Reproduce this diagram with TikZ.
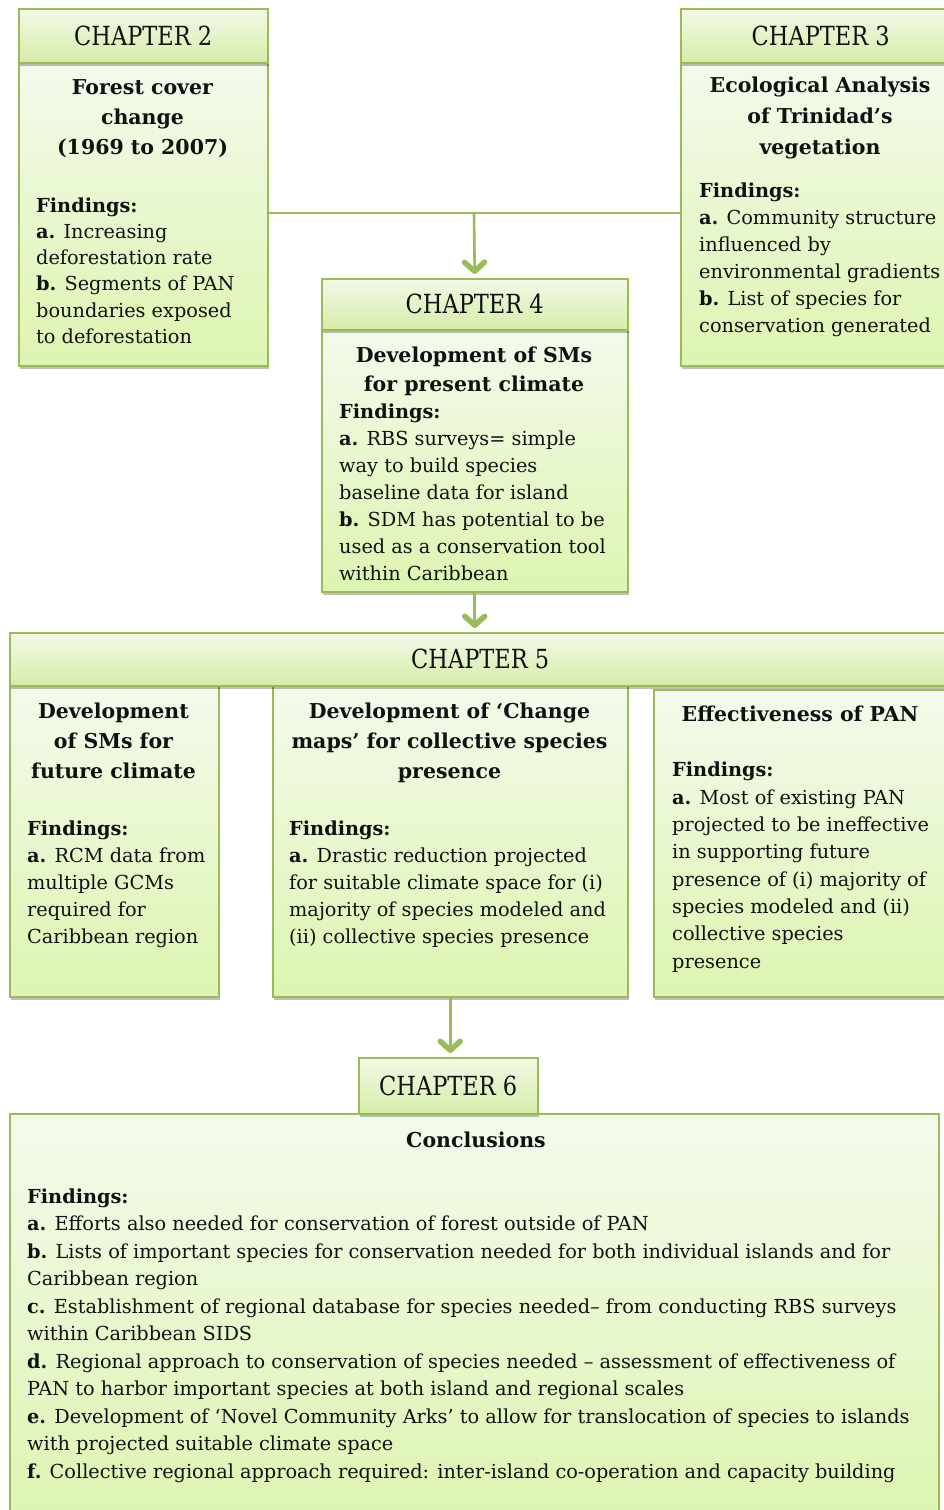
\documentclass[tikz,border=0pt]{standalone}
\usepackage{fontspec}
\usepackage{graphicx}
\setmainfont{DejaVu Serif}
\usetikzlibrary{arrows.meta,shadows}
\definecolor{bord}{HTML}{9BBB59}
\definecolor{hdrtop}{HTML}{F3F9E8}
\definecolor{hdrbot}{HTML}{D5EDA8}
\definecolor{bodytop}{HTML}{F4FAEC}
\definecolor{bodybot}{HTML}{DCF5B0}
\definecolor{txt}{HTML}{111111}
\newcommand\hdrfont{\fontsize{22.5}{27}\selectfont}
\newcommand\ttlfont{\fontsize{20.5}{30}\selectfont\bfseries}
\newcommand\fndfont{\fontsize{19.3}{27}\selectfont}
\newcommand\hdrtext[1]{\scalebox{1}[1.17]{#1}}
\tikzset{
 box/.style={draw=bord, line width=1.5pt, inner sep=0pt, anchor=north west,
   drop shadow={shadow xshift=1.5pt, shadow yshift=-3pt, opacity=0.25, fill=black}},
 hdrbox/.style={box, top color=hdrtop, bottom color=hdrbot, font=\hdrfont, text=txt},
 bodybox/.style={box, top color=bodytop, bottom color=bodybot},
 ttl/.style={anchor=base, align=center, font=\ttlfont, text=txt, inner sep=0pt},
 fnd/.style={anchor=base west, align=left, font=\fndfont, text=txt, inner sep=0pt},
 conn/.style={draw=bord, line width=2.6pt},
 arr/.style={conn, -{Straight Barb[length=9pt,width=20pt,line width=5.5pt,round]}, shorten >=4pt},
}
\begin{document}
\begin{tikzpicture}[x=1pt,y=-1pt]
\fill[white] (0,0) rectangle (944,1510);
\useasboundingbox (0,0) rectangle (944,1510);
\clip (0,0) rectangle (944,1510);
% text nodes are anchored at the baseline of their LAST line

% Chapter 2
\node[bodybox, minimum width=249pt, minimum height=303pt] (ch2b) at (18,62) {};
\node[hdrbox, minimum width=249pt, minimum height=54pt] (ch2h) at (18,8) {\hdrtext{CHAPTER 2}};
\node[ttl] (ch2t) at (142.5,154) {Forest cover\\change\\(1969 to 2007)};
\node[fnd, font={\fontsize{19.3}{26.3}\selectfont}] (ch2f) at (36,343.5) {\textbf{Findings:}\\\textbf{a.} Increasing\\deforestation rate\\\textbf{b.} Segments of PAN\\boundaries exposed\\to deforestation};

% Chapter 3
\node[bodybox, minimum width=280pt, minimum height=303pt] (ch3b) at (680,62) {};
\node[hdrbox, minimum width=280pt, minimum height=54pt] (ch3h) at (680,8) {\hdrtext{CHAPTER 3}};
\node[ttl, font={\fontsize{20.5}{31}\selectfont\bfseries}] (ch3t) at (820,154) {Ecological Analysis\\of Trinidad’s\\vegetation};
\node[fnd] (ch3f) at (699,332) {\textbf{Findings:}\\\textbf{a.} Community structure\\influenced by\\environmental gradients\\\textbf{b.} List of species for\\conservation generated};

% Chapter 4
\node[bodybox, minimum width=306pt, minimum height=262pt] (ch4b) at (321,329) {};
\node[hdrbox, minimum width=306pt, minimum height=51pt] (ch4h) at (321,278) {\hdrtext{CHAPTER 4}};
\node[ttl, font={\fontsize{20.5}{29}\selectfont\bfseries}] (ch4t) at (474,391) {Development of SMs\\for present climate};
\node[fnd] (ch4f) at (339,580) {\textbf{Findings:}\\\textbf{a.} RBS surveys= simple\\way to build species\\baseline data for island\\\textbf{b.} SDM has potential to be\\used as a conservation tool\\within Caribbean};

% Chapter 5
\node[bodybox, minimum width=209pt, minimum height=311pt] (ch5a) at (9,685) {};
\node[bodybox, minimum width=355pt, minimum height=311pt] (ch5b) at (272,685) {};
\node[bodybox, minimum width=296pt, minimum height=307pt] (ch5c) at (653,689) {};
\node[hdrbox, minimum width=941pt, minimum height=53pt] (ch5h) at (9,632) {\hdrtext{CHAPTER 5}};
\node[ttl] (ch5at) at (113.5,778) {Development\\of SMs for\\future climate};
\node[fnd] (ch5af) at (27,943) {\textbf{Findings:}\\\textbf{a.} RCM data from\\multiple GCMs\\required for\\Caribbean region};
\node[ttl] (ch5bt) at (449.5,778) {Development of ‘Change\\maps’ for collective species\\presence};
\node[fnd] (ch5bf) at (289,943) {\textbf{Findings:}\\\textbf{a.} Drastic reduction projected\\for suitable climate space for (i)\\majority of species modeled and\\(ii) collective species presence};
\node[ttl] (ch5ct) at (800,721) {Effectiveness of PAN};
\node[fnd, font={\fontsize{19.3}{27.3}\selectfont}] (ch5cf) at (672,968) {\textbf{Findings:}\\\textbf{a.} Most of existing PAN\\projected to be ineffective\\in supporting future\\presence of (i) majority of\\species modeled and (ii)\\collective species\\presence};

% Chapter 6
\node[bodybox, minimum width=929pt, minimum height=410pt] (ch6b) at (9,1113) {};
\node[hdrbox, minimum width=179pt, minimum height=56pt] (ch6h) at (358,1057) {\hdrtext{CHAPTER 6}};
\node[ttl] (ch6t) at (476,1147) {Conclusions};
\node[fnd, font={\fontsize{19.3}{27.5}\selectfont}] (ch6f) at (27,1478) {\textbf{Findings:}\\
\textbf{a.} Efforts also needed for conservation of forest outside of PAN\\
\textbf{b.} Lists of important species for conservation needed for both individual islands and for\\
Caribbean region\\
\textbf{c.} Establishment of regional database for species needed– from conducting RBS surveys\\
within Caribbean SIDS\\
\textbf{d.} Regional approach to conservation of species needed – assessment of effectiveness of\\
PAN to harbor important species at both island and regional scales\\
\textbf{e.} Development of ‘Novel Community Arks’ to allow for translocation of species to islands\\
with projected suitable climate space\\
\textbf{f.} Collective regional approach required: inter-island co-operation and capacity building};

% Connectors
\coordinate (j) at (474,213);
\draw[conn] (ch2b.east |- j) -- (ch3b.west |- j);
\draw[arr] (j) -- (ch4h.north);
\draw[arr] (ch4b.south) -- (ch4b.south |- ch5h.north);
\draw[arr] (ch5b.south) -- (ch5b.south |- ch6h.north);
\end{tikzpicture}
\end{document}
